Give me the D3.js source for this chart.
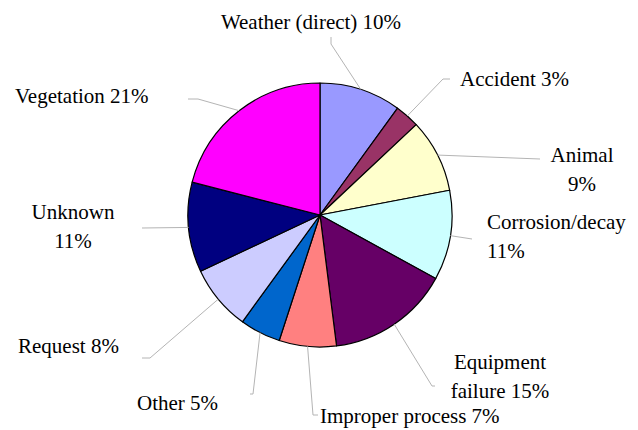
<!DOCTYPE html>
<html>
<head>
<meta charset="utf-8">
<script src="https://cdn.jsdelivr.net/npm/d3@7"></script>
<style>
  html, body { margin: 0; padding: 0; background: #fff; }
</style>
</head>
<body>
<svg id="SVG_CONTAINER" width="638" height="430"></svg>
<script>
// data
const causes = ["Weather (direct)", "Accident", "Animal", "Corrosion/decay", "Equipment failure",
  "Improper process", "Other", "Request", "Unknown", "Vegetation"];
const shares = [10, 3, 9, 11, 15, 7, 5, 8, 11, 21];
const colours = ["#9999ff", "#993366", "#ffffcc", "#ccffff", "#660066",
  "#ff8080", "#0066cc", "#ccccff", "#000080", "#ff00ff"];
const labelText = [
  ["Weather (direct) 10%"],
  ["Accident 3%"],
  ["Animal", "9%"],
  ["Corrosion/decay", "11%"],
  ["Equipment", "failure 15%"],
  ["Improper process 7%"],
  ["Other 5%"],
  ["Request 8%"],
  ["Unknown", "11%"],
  ["Vegetation 21%"],
];

// label placement (layout only)
const labelLayout = [
  { x: 311, y: 29, anchor: "middle", leader: [[331, 44], [331, 37]] },
  { x: 460, y: 86, anchor: "start", leader: [[443, 79], [450, 79]] },
  { x: 582, y: 162, anchor: "middle", leader: [[540, 159]] },
  { x: 487, y: 229, anchor: "start", leader: [[472, 239]] },
  { x: 500, y: 369, anchor: "middle", leader: [[432, 386], [435, 386]] },
  { x: 320, y: 423, anchor: "start", leader: [[313, 415], [318, 415]] },
  { x: 137, y: 410, anchor: "start", leader: [[253, 394], [250, 394]] },
  { x: 18, y: 353, anchor: "start", leader: [[150, 358], [142, 358]] },
  { x: 73, y: 219, anchor: "middle", leader: [[142, 228]] },
  { x: 15, y: 103, anchor: "start", leader: [[198, 99], [188, 99]] },
];

const cx = 320, cy = 215, radius = 132, lineGap = 28.5;

const svg = d3.select("#SVG_CONTAINER");
const g = svg.append("g").attr("transform", `translate(${cx},${cy})`);

const pie = d3.pie().sort(null).value((d) => d.value);
const arcs = pie(causes.map((c, i) => ({ cause: c, value: shares[i], i })));

const arc = d3.arc().innerRadius(0).outerRadius(radius);
const edgeArc = d3.arc().innerRadius(radius).outerRadius(radius);

// leader lines
svg.selectAll(".leader")
  .data(arcs)
  .enter()
  .append("polyline")
  .attr("class", "leader")
  .attr("points", (d) => {
    const [ex, ey] = edgeArc.centroid(d);
    const pts = [[cx + ex, cy + ey]].concat(labelLayout[d.data.i].leader);
    return pts.map((p) => p.join(",")).join(" ");
  })
  .style("fill", "none")
  .style("stroke", "#b4b4b4")
  .style("stroke-width", 1);

// slices
g.selectAll("path")
  .data(arcs)
  .enter()
  .append("path")
  .attr("d", arc)
  .style("fill", (d) => colours[d.data.i])
  .style("stroke", "#000")
  .style("stroke-width", 1.2)
  .style("stroke-linejoin", "round");

// labels
const labels = svg.selectAll(".label")
  .data(arcs)
  .enter()
  .append("text")
  .attr("class", "label")
  .attr("font-family", "'Liberation Serif', 'Times New Roman', Times, 'DejaVu Serif', serif")
  .attr("font-size", 21)
  .attr("fill", "#000")
  .attr("text-anchor", (d) => labelLayout[d.data.i].anchor)
  .attr("x", (d) => labelLayout[d.data.i].x)
  .attr("y", (d) => labelLayout[d.data.i].y);

labels.each(function (d) {
  const lay = labelLayout[d.data.i];
  d3.select(this)
    .selectAll("tspan")
    .data(labelText[d.data.i])
    .enter()
    .append("tspan")
    .attr("x", lay.x)
    .attr("y", (t, k) => lay.y + k * lineGap)
    .text((t) => t);
});
</script>
</body>
</html>
